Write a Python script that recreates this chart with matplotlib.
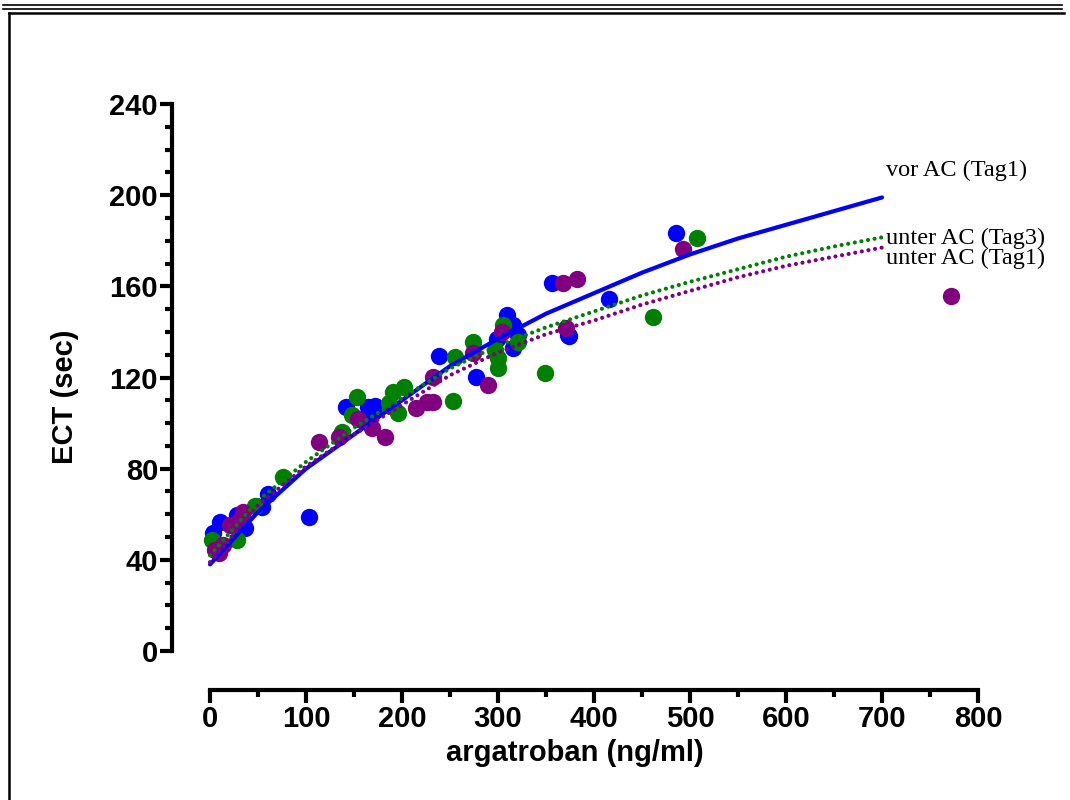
import numpy as np
import matplotlib
matplotlib.use("Agg")
import matplotlib.pyplot as plt
from matplotlib.ticker import FixedLocator
from matplotlib.lines import Line2D

# scatter data (argatroban ng/ml, ECT sec)
vor_tag1_x = [3.5, 10, 28, 36.5, 54, 60, 103, 142, 164.6, 168, 172, 238.5, 276.7,
              298.6, 309, 316, 316, 321, 356, 373, 374, 415.6, 485]
vor_tag1_y = [51.6, 56.7, 59.7, 53.8, 63, 69, 58.7, 107, 107.2, 103.5, 107.5, 129.4, 120.4,
              137, 147.4, 143, 133, 138.6, 161.3, 138.6, 138, 154.3, 183.3]

unter_tag3_x = [1.7, 28, 47, 76, 137, 147.6, 153, 186, 191, 196, 202, 253, 255,
                274, 297, 300, 300, 305, 321, 349, 461, 507.6]
unter_tag3_y = [48.7, 48.7, 63.6, 76.5, 96, 103.5, 111.6, 108.7, 113.8, 104.6, 115.7, 109.7, 128.9,
                135.7, 132, 124, 128.4, 143, 135.7, 121.8, 146.4, 181.4]

unter_tag1_x = [5, 9, 14, 21, 31, 34.7, 114, 134.7, 154.5, 168.4, 182.3, 214.6, 225.7,
                232.6, 232.6, 273.6, 290, 304, 368, 371, 382, 493, 772]
unter_tag1_y = [44.3, 43, 46.5, 55.3, 57.5, 61.1, 91.8, 94, 102, 97.7, 93.7, 106.8, 109.4,
                109.4, 120.4, 130.6, 116.7, 140, 161.3, 141.6, 163.2, 176.3, 155.8]

# fitted curves
fit_x = [0, 50, 100, 150, 200, 250, 300, 350, 400, 450, 500, 550, 600, 650, 700]
fit_vor_tag1 = [38, 61, 80, 95, 110, 125, 137, 148, 157, 166, 174, 181, 187, 193, 199]
fit_unter_tag3 = [42, 66, 83, 98, 111, 124, 134, 142, 149, 156, 162, 167.5, 173, 177.5, 181.5]
fit_unter_tag1 = [39, 64, 81, 95, 108, 121, 131, 139, 145, 152, 158, 164, 169, 173, 177]

labels = ["vor AC (Tag1)", "unter AC (Tag3)", "unter AC (Tag1)"]
label_y = [211, 181, 172.4]

blue, green, purple = "#0000FF", "#008000", "#800080"

fig = plt.figure(figsize=(10.7, 8), dpi=100)
ax = fig.add_axes([172 / 1070, 110 / 800, (978 - 172) / 1070, (690 - 104) / 800])
ax.set_xlim(-39.6, 800)
ax.set_ylim(-17.1, 240)

ms = 12.5
ax.plot(vor_tag1_x, vor_tag1_y, "o", color=blue, ms=ms, mew=0, clip_on=False, zorder=3)
ax.plot(unter_tag3_x, unter_tag3_y, "o", color=green, ms=ms, mew=0, clip_on=False, zorder=4)
ax.plot(unter_tag1_x, unter_tag1_y, "o", color=purple, ms=ms, mew=0, clip_on=False, zorder=5)

# curves sit on top of the dots
ax.plot(fit_x, fit_vor_tag1, color=blue, lw=3, solid_capstyle="round", zorder=6)
ax.plot(fit_x, fit_unter_tag3, color=green, lw=3, ls=(0, (0.01, 1.6)),
        dash_capstyle="round", zorder=6)
ax.plot(fit_x, fit_unter_tag1, color=purple, lw=3, ls=(0, (0.01, 1.6)),
        dash_capstyle="round", zorder=6)

for txt, yv in zip(labels, label_y):
    ax.text(704, yv, txt, fontsize=17.5, family="Liberation Serif",
            ha="left", va="center", clip_on=False)

for s in ["top", "right"]:
    ax.spines[s].set_visible(False)
ax.spines["left"].set_bounds(0, 240)
ax.spines["bottom"].set_bounds(0, 800)
for s in ["left", "bottom"]:
    ax.spines[s].set_linewidth(3)

ax.xaxis.set_major_locator(FixedLocator(np.arange(0, 801, 100)))
ax.xaxis.set_minor_locator(FixedLocator(np.arange(50, 800, 100)))
ax.yaxis.set_major_locator(FixedLocator(np.arange(0, 241, 40)))
ax.yaxis.set_minor_locator(FixedLocator([v for v in range(10, 240, 10) if v % 40]))
ax.tick_params(which="major", length=9, width=3, direction="out", pad=2)
ax.tick_params(which="minor", length=5, width=3, direction="out")
ax.tick_params(axis="y", pad=1)

for lab in ax.get_xticklabels() + ax.get_yticklabels():
    lab.set_fontfamily("Liberation Sans")
    lab.set_fontweight("bold")
    lab.set_fontsize(21)

ax.set_xlabel("argatroban (ng/ml)", fontsize=21, fontweight="bold",
              family="Liberation Sans", labelpad=4)
ax.set_ylabel("ECT (sec)", fontsize=21, fontweight="bold",
              family="Liberation Sans", labelpad=22)

# page frame
W, H = 1070, 800
fig.add_artist(Line2D([3 / W, 1062 / W], [1 - 5 / H, 1 - 5 / H], color="black", lw=1.2))
fig.add_artist(Line2D([3 / W, 1062 / W], [1 - 8.5 / H, 1 - 8.5 / H], color="black", lw=1.2))
fig.add_artist(Line2D([9 / W, 1064 / W], [1 - 13 / H, 1 - 13 / H], color="black", lw=1.8))
fig.add_artist(Line2D([9 / W, 9 / W], [0, 1 - 13 / H], color="black", lw=1.8))

fig.savefig("out.png", dpi=100)
